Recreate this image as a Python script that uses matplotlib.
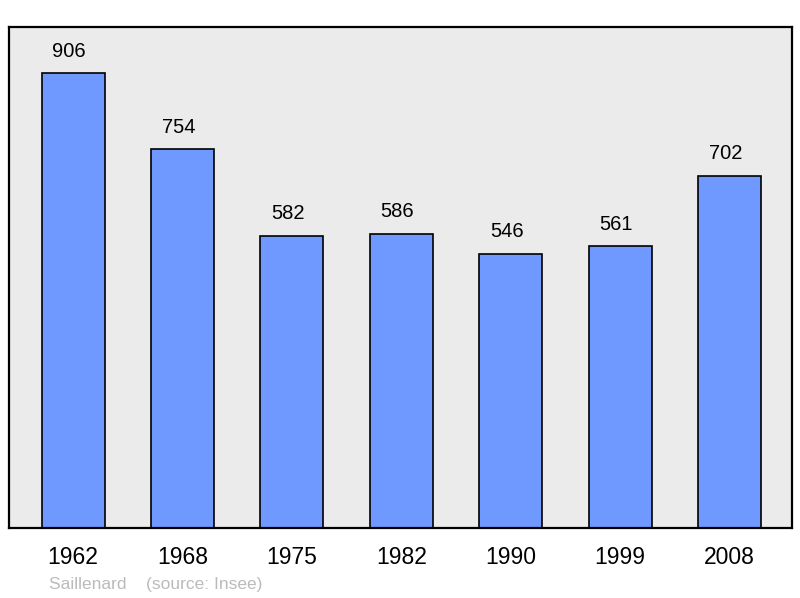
import matplotlib
matplotlib.use("Agg")
import matplotlib.pyplot as plt

years = ["1962", "1968", "1975", "1982", "1990", "1999", "2008"]
population = [906, 754, 582, 586, 546, 561, 702]

plt.rcParams["font.family"] = ["Liberation Sans", "DejaVu Sans"]

fig = plt.figure(figsize=(8.0, 5.98), dpi=100)
# axes frame: x 9..792, y 27..528 (pixels)
ax = fig.add_axes([9 / 800, 1 - 528 / 598, 783 / 800, 501 / 598])
ax.set_facecolor("#EBEBEB")

x = range(len(years))
ax.bar(x, population, width=0.576, color="#7099FF", edgecolor="black", linewidth=1.2)

# value labels sit a little left of the bar centre, as in the original
for xi, v in zip(x, population):
    ax.text(xi - 0.038, v + 25, str(v), ha="center", va="bottom", fontsize=14.5, color="black")

ax.set_xlim(-0.585, 6.57)
ax.set_ylim(0, 998)
ax.set_yticks([])
ax.set_xticks(list(x))
ax.set_xticklabels(years, fontsize=16.5)
ax.tick_params(axis="x", length=0, pad=13)
for sp in ax.spines.values():
    sp.set_linewidth(1.6)
    sp.set_color("black")

fig.text(49 / 800, 1 - 584 / 598, "Saillenard    (source: Insee)",
         ha="left", va="center", fontsize=12.5, color="#BBBBBB")

fig.savefig("out.png", dpi=100, facecolor="white")
